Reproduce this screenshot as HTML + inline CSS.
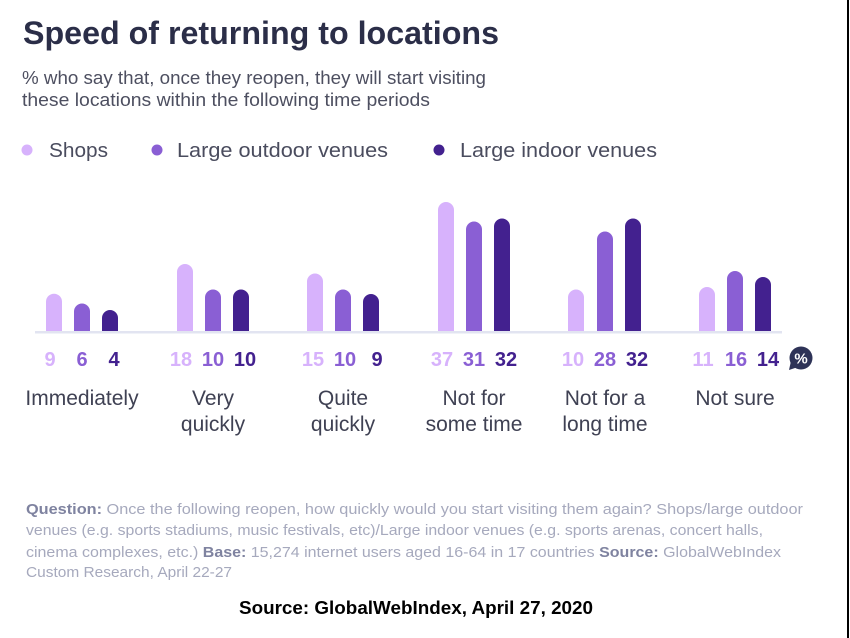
<!DOCTYPE html>
<html><head><meta charset="utf-8"><style>
html,body{margin:0;padding:0;background:#fff;}
svg{display:block;}
text{font-family:"Liberation Sans",Arial,sans-serif;}
</style></head><body>
<svg width="850" height="638" viewBox="0 0 850 638" xmlns="http://www.w3.org/2000/svg">
<rect width="850" height="638" fill="#fff"/>
<!-- Title -->
<text x="23" y="44" font-size="32" font-weight="bold" fill="#2b2e48" textLength="476" lengthAdjust="spacingAndGlyphs">Speed of returning to locations</text>
<text x="22" y="84" font-size="18.5" fill="#4d4f60" textLength="464" lengthAdjust="spacingAndGlyphs">% who say that, once they reopen, they will start visiting</text>
<text x="22" y="106" font-size="18.5" fill="#4d4f60" textLength="408" lengthAdjust="spacingAndGlyphs">these locations within the following time periods</text>
<!-- Legend -->
<circle cx="27" cy="150" r="5.5" fill="#d7b2fc"/>
<text x="49" y="157" font-size="20" fill="#4a4c5e" textLength="59" lengthAdjust="spacingAndGlyphs">Shops</text>
<circle cx="157" cy="150" r="5.5" fill="#8a5fd4"/>
<text x="177" y="157" font-size="20" fill="#4a4c5e" textLength="211" lengthAdjust="spacingAndGlyphs">Large outdoor venues</text>
<circle cx="439" cy="150" r="5.5" fill="#43218f"/>
<text x="460" y="157" font-size="20" fill="#4a4c5e" textLength="197" lengthAdjust="spacingAndGlyphs">Large indoor venues</text>
<!-- Bars -->
<g id="bars">
<path d="M46,332 V301.7 A8,8 0 0 1 62,301.7 V332 Z" fill="#d7b2fc"/>
<path d="M74,332 V311.5 A8,8 0 0 1 90,311.5 V332 Z" fill="#8a5fd4"/>
<path d="M102,332 V318 A8,8 0 0 1 118,318 V332 Z" fill="#43218f"/>
<path d="M177,332 V272 A8,8 0 0 1 193,272 V332 Z" fill="#d7b2fc"/>
<path d="M205,332 V297.5 A8,8 0 0 1 221,297.5 V332 Z" fill="#8a5fd4"/>
<path d="M233,332 V297.5 A8,8 0 0 1 249,297.5 V332 Z" fill="#43218f"/>
<path d="M307,332 V281.5 A8,8 0 0 1 323,281.5 V332 Z" fill="#d7b2fc"/>
<path d="M335,332 V297.5 A8,8 0 0 1 351,297.5 V332 Z" fill="#8a5fd4"/>
<path d="M363,332 V302 A8,8 0 0 1 379,302 V332 Z" fill="#43218f"/>
<path d="M438,332 V210 A8,8 0 0 1 454,210 V332 Z" fill="#d7b2fc"/>
<path d="M466,332 V229.5 A8,8 0 0 1 482,229.5 V332 Z" fill="#8a5fd4"/>
<path d="M494,332 V226.5 A8,8 0 0 1 510,226.5 V332 Z" fill="#43218f"/>
<path d="M568,332 V297.5 A8,8 0 0 1 584,297.5 V332 Z" fill="#d7b2fc"/>
<path d="M597,332 V239.5 A8,8 0 0 1 613,239.5 V332 Z" fill="#8a5fd4"/>
<path d="M625,332 V226.5 A8,8 0 0 1 641,226.5 V332 Z" fill="#43218f"/>
<path d="M699,332 V295 A8,8 0 0 1 715,295 V332 Z" fill="#d7b2fc"/>
<path d="M727,332 V279 A8,8 0 0 1 743,279 V332 Z" fill="#8a5fd4"/>
<path d="M755,332 V285 A8,8 0 0 1 771,285 V332 Z" fill="#43218f"/>
</g>
<rect x="35" y="331" width="747" height="2.5" fill="#e2e4f1"/>
<!-- Values -->
<g font-size="20" font-weight="bold" text-anchor="middle">
<text x="50" y="366" fill="#d7b2fc">9</text>
<text x="82" y="366" fill="#8a5fd4">6</text>
<text x="114" y="366" fill="#43218f">4</text>
<text x="181" y="366" fill="#d7b2fc">18</text>
<text x="213" y="366" fill="#8a5fd4">10</text>
<text x="245" y="366" fill="#43218f">10</text>
<text x="313" y="366" fill="#d7b2fc">15</text>
<text x="345" y="366" fill="#8a5fd4">10</text>
<text x="377" y="366" fill="#43218f">9</text>
<text x="442" y="366" fill="#d7b2fc">37</text>
<text x="474" y="366" fill="#8a5fd4">31</text>
<text x="506" y="366" fill="#43218f">32</text>
<text x="573" y="366" fill="#d7b2fc">10</text>
<text x="605" y="366" fill="#8a5fd4">28</text>
<text x="637" y="366" fill="#43218f">32</text>
<text x="703" y="366" fill="#d7b2fc">11</text>
<text x="736" y="366" fill="#8a5fd4">16</text>
<text x="768" y="366" fill="#43218f">14</text>
</g>
<!-- % bubble -->
<circle cx="801" cy="358" r="11.5" fill="#2e3357"/>
<polygon points="791,361 789,370 798,367" fill="#2e3357"/>
<text x="801" y="363.5" font-size="15" font-weight="bold" fill="#fff" text-anchor="middle">%</text>
<!-- Category labels -->
<g font-size="21" fill="#3f4153" text-anchor="middle">
<text x="82" y="405">Immediately</text>
<text x="213" y="405">Very</text>
<text x="213" y="431">quickly</text>
<text x="343" y="405">Quite</text>
<text x="343" y="431">quickly</text>
<text x="474" y="405">Not for</text>
<text x="474" y="431">some time</text>
<text x="605" y="405">Not for a</text>
<text x="605" y="431">long time</text>
<text x="735" y="405">Not sure</text>
</g>
<!-- Footnote -->
<g font-size="15" fill="#a6a9bd">
<text x="26" y="514" textLength="777" lengthAdjust="spacingAndGlyphs"><tspan font-weight="bold" fill="#7f83a0">Question:</tspan> Once the following reopen, how quickly would you start visiting them again? Shops/large outdoor</text>
<text x="26" y="535" textLength="737" lengthAdjust="spacingAndGlyphs">venues (e.g. sports stadiums, music festivals, etc)/Large indoor venues (e.g. sports arenas, concert halls,</text>
<text x="26" y="557" textLength="755" lengthAdjust="spacingAndGlyphs">cinema complexes, etc.) <tspan font-weight="bold" fill="#7f83a0">Base:</tspan> 15,274 internet users aged 16-64 in 17 countries <tspan font-weight="bold" fill="#7f83a0">Source:</tspan> GlobalWebIndex</text>
<text x="26" y="577" textLength="206" lengthAdjust="spacingAndGlyphs">Custom Research, April 22-27</text>
</g>
<text x="239" y="614" font-size="18" font-weight="bold" fill="#000" textLength="354" lengthAdjust="spacingAndGlyphs">Source: GlobalWebIndex, April 27, 2020</text>
<!-- right border -->
<rect x="847" y="0" width="2" height="638" fill="#000"/>
</svg>
</body></html>
